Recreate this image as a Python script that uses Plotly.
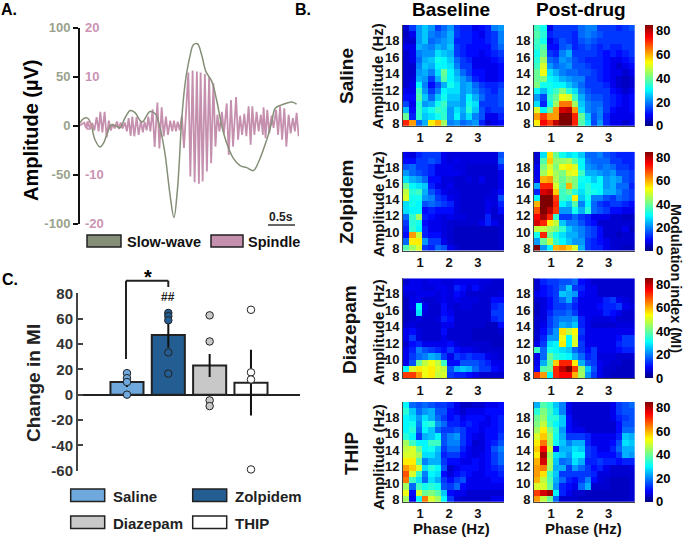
import plotly.graph_objects as go

W, H = 685, 537
FONT = "Liberation Sans"

# ---------- Panel A data ----------
slow_t = [0,.06,.14,.2,.28,.375,.44,.5,.59,.69,.75,.84,.94,1.03,1.16,1.31,1.41,1.5,1.59,1.69,1.76,1.825,1.91,1.97,2.06,2.125,2.2,2.28,2.36,2.47,2.56,2.66,2.75,2.875,3.0,3.125,3.25,3.34,3.5,3.59,3.66,3.78,3.97,4.06]
slow_uv = [2.4,6.8,7.5,2.4,-14.6,-22,-18,-9.5,.7,-1,-2.4,7.5,15.3,13.2,3.4,14.2,11.9,-2.7,-28,-72,-94,-65.7,9,43,70.5,82.4,83.4,72,55,45,26,-1,-18,-33.6,-41,-43,-46,-38,-14.6,2.4,17.6,21,24,21.7]
spindle_t = [.075,.15,.23,.31,.38,.46,.54,.61,.69,.76,.84,.91,.98,1.06,1.14,1.21,1.28,1.36,1.45,1.53,1.61,1.69,1.76,1.83,1.91,2.03,2.11,2.19,2.26,2.34,2.42,2.5,2.575,2.66,2.75,2.83,2.925,3.0,3.08,3.16,3.23,3.31,3.39,3.44,3.51,3.59,3.675,3.75,3.83,3.91,3.99,4.06]
spindle_hi = [.6,.5,.5,1.7,2.8,2.8,1,.3,.8,.6,.6,1.5,1.8,1.7,1,.8,1.8,3.3,4.7,3.7,1.8,1,1,.8,2,10.8,11.2,11,10.8,10.5,10,8.6,2.2,2.8,4.5,5.2,5.8,2,2.4,3.9,3.9,2.8,2.2,3.7,3.2,2,3.2,3.9,3.5,2.2,1.5,2.6]
spindle_lo = [-.5,-.7,-1,-1.2,-1.4,-2.4,-1,-.6,-.7,-.6,-1.2,-2.1,-2.2,-1.9,-1.4,-1,-1.2,-4.4,-4.7,-2.2,-1.9,-1.2,-1.2,-1,-4.6,-10.4,-11.6,-11.9,-11.4,-9.4,-7.7,-4.3,-1.2,-1.6,-6,-4.3,-2.9,-1.9,-2.2,-3.9,-1.9,-1.2,-1.9,-2.6,-1.6,-.5,-1.9,-2.9,-4.3,-1.6,-1.2,-2.2]
slow_ticks = [-100, -50, 0, 50, 100]
spindle_ticks = [-20, -10, 0, 10, 20]

# ---------- Panel C data ----------
drugs = ["Saline", "Zolpidem", "Diazepam", "THIP"]
mi_mean = [10, 47, 23, 9.5]
mi_sem = [4, 10, 9, 26]
mi_points = [[17, 13, 10, 0], [64.5, 62, 58.7, 33.4, 16.6], [62.6, 42, -4.5, -9], [67, 17.6, 12, -59]]
mi_ticks = [-60, -40, -20, 0, 20, 40, 60, 80]
bar_colors = ["#6fa8dc", "#235d91", "#c8c8c8", "#ffffff"]

# ---------- Panel B data: rows run from 8 Hz (first) to 20 Hz (last) ----------
saline_base = [
[72,62,18,24,55,60,45,20,22,18,20,22,12,6,8,10],
[40,12,35,26,28,32,35,22,30,22,28,20,16,8,8,12],
[25,10,35,28,32,36,34,22,28,24,34,26,16,12,14,14],
[15,8,34,22,24,32,36,24,24,22,32,28,14,14,14,16],
[10,10,38,26,18,26,32,26,26,22,30,24,18,14,14,16],
[8,8,36,22,14,20,30,28,28,22,24,20,16,14,12,16],
[6,8,30,20,10,16,24,32,28,22,24,18,14,12,12,14],
[6,7,24,22,14,24,38,30,26,22,18,12,10,8,8,10],
[6,6,22,24,20,28,40,30,24,18,14,10,10,8,8,10],
[6,6,20,26,24,30,30,28,20,14,14,8,8,8,8,10],
[6,8,18,24,26,32,30,26,18,14,12,8,8,8,10,12],
[6,8,20,22,22,28,26,24,14,12,10,10,8,10,12,14],
[8,8,24,22,20,24,22,26,14,12,10,10,10,10,14,18],
[6,6,22,26,18,20,22,24,12,12,12,10,10,12,14,20],
[5,8,22,26,20,18,20,24,14,12,12,10,8,12,14,20],
[6,14,22,26,22,14,18,22,14,12,12,8,10,12,20,22]]
saline_post = [
[55,75,70,80,85,85,72,38,28,15,22,12,8,8,6,8],
[62,70,62,62,85,85,72,40,26,16,20,12,8,8,8,8],
[50,30,40,62,78,80,62,28,20,18,20,14,10,8,8,10],
[28,12,32,45,65,65,45,26,20,18,18,14,12,10,8,10],
[22,15,35,40,52,50,36,24,18,16,16,14,12,10,8,10],
[30,25,32,36,42,34,28,20,16,14,14,14,10,8,6,8],
[42,32,32,30,30,26,22,18,14,14,14,12,8,6,5,6],
[40,42,30,28,24,22,20,20,14,14,12,10,8,6,5,6],
[40,52,28,24,20,18,18,16,16,14,12,10,8,8,6,8],
[36,50,22,18,20,22,16,16,14,12,12,10,8,6,8,10],
[34,45,18,16,22,20,16,14,12,12,12,10,8,8,10,12],
[32,40,14,12,20,24,14,14,14,14,12,10,12,10,12,14],
[35,38,10,10,16,18,12,14,16,14,12,14,12,12,14,14],
[36,32,8,12,16,14,12,16,18,16,14,14,14,14,14,14],
[38,34,12,14,14,14,12,18,20,18,16,14,14,14,14,14],
[36,32,8,14,14,14,14,18,20,20,14,14,14,12,14,16]]
zolpidem_base = [
[38,45,50,14,12,18,16,8,6,5,5,5,5,5,5,6],
[18,55,55,22,14,14,8,6,5,5,5,5,5,5,5,6],
[10,62,48,12,10,10,7,6,5,5,5,5,5,5,5,6],
[12,35,30,12,8,8,7,6,5,5,5,5,5,5,5,6],
[14,34,32,10,8,8,7,6,6,6,6,6,8,12,8,6],
[18,35,45,12,10,8,7,8,7,7,6,6,6,12,6,6],
[28,30,30,10,12,10,10,10,7,6,6,6,6,8,6,10],
[28,32,30,16,18,16,14,12,7,6,6,6,6,8,7,12],
[50,32,32,22,20,14,12,8,7,6,6,6,6,7,7,16],
[48,34,36,24,16,12,8,7,7,6,6,6,6,6,7,10],
[40,30,28,26,12,8,7,8,6,6,6,6,6,6,6,8],
[28,24,22,18,10,10,7,7,6,6,7,6,8,6,6,8],
[22,18,16,14,12,8,8,8,8,7,6,6,6,6,6,8],
[16,18,14,14,12,8,8,8,7,7,6,6,6,6,6,12],
[10,10,14,14,16,14,8,7,8,7,7,7,7,7,7,18],
[8,7,12,14,14,14,8,7,7,7,7,7,7,7,7,16]]
zolpidem_post = [
[85,22,30,60,62,58,50,24,14,12,12,8,6,6,5,5],
[22,40,48,35,30,26,22,22,14,12,10,8,6,6,6,6],
[32,72,40,32,28,24,24,20,16,14,10,6,6,5,6,6],
[48,48,45,42,35,26,22,20,16,14,10,6,6,6,8,5],
[78,72,55,48,26,20,20,16,12,10,6,6,6,6,6,6],
[75,82,72,35,14,14,18,14,12,8,8,8,6,6,5,5],
[68,85,80,70,22,22,32,24,34,18,16,14,10,10,8,8],
[60,85,85,72,30,26,38,20,30,18,14,12,14,14,12,10],
[30,85,85,70,36,34,55,26,32,20,20,16,14,18,16,14],
[12,78,80,58,36,40,34,28,34,32,30,24,24,20,16,14],
[24,72,72,50,38,60,42,30,34,30,30,22,24,18,18,12],
[8,60,62,46,40,45,42,32,30,26,30,22,24,22,16,14],
[8,45,52,45,42,50,52,36,24,24,22,20,22,16,16,14],
[8,42,50,42,52,55,50,30,22,20,18,20,18,14,14,12],
[6,38,58,44,44,46,38,30,20,18,18,18,14,14,12,12],
[6,28,56,40,32,28,30,26,18,18,20,16,14,12,12,12]]
diazepam_base = [
[70,70,62,52,55,48,50,14,12,12,10,8,6,6,6,6],
[30,50,55,52,55,50,48,16,24,26,24,18,14,14,10,8],
[8,16,40,48,52,48,36,10,10,16,16,16,14,12,8,8],
[8,14,18,20,24,22,14,8,14,12,14,12,12,8,7,6],
[8,12,20,16,14,12,10,14,10,8,8,7,6,6,6,6],
[6,10,12,8,8,8,8,10,7,6,6,6,6,6,5,5],
[8,14,7,6,6,6,8,6,6,6,6,5,5,5,5,5],
[8,10,7,6,6,6,10,6,6,6,6,5,5,5,5,6],
[6,7,6,6,6,6,8,8,6,6,6,6,6,5,5,10],
[5,6,7,6,6,7,12,10,6,6,6,6,6,6,12,14],
[5,6,28,7,6,6,10,8,6,6,6,6,6,6,14,14],
[5,8,30,8,6,6,10,7,6,7,7,6,6,6,12,14],
[5,8,8,6,6,7,8,7,8,7,7,7,6,6,10,10],
[7,7,8,8,8,7,8,7,10,8,6,6,6,6,6,7],
[8,8,8,7,7,8,8,7,12,10,7,10,7,6,6,6],
[6,8,8,7,8,8,7,7,8,8,8,8,7,7,6,6]]
diazepam_post = [
[70,62,30,72,75,75,60,45,22,14,8,6,5,5,5,5],
[10,38,40,72,80,85,70,44,26,16,8,6,6,5,5,5],
[8,24,38,58,72,72,55,24,16,14,8,7,6,6,5,5],
[8,18,40,34,32,30,24,18,12,14,7,7,7,6,6,6],
[36,18,32,30,28,26,18,14,10,14,8,8,8,10,12,12],
[8,14,28,30,55,30,50,14,8,8,8,8,8,12,14,14],
[6,12,22,22,52,30,50,12,8,8,8,8,8,10,14,14],
[6,10,16,22,56,48,54,14,8,8,8,8,8,8,8,8],
[6,8,14,18,24,22,26,12,8,6,6,6,6,7,7,7],
[6,7,14,18,20,20,22,12,8,7,7,7,8,6,6,6],
[5,7,12,16,16,18,14,8,8,8,8,12,10,8,6,6],
[5,7,10,14,14,16,12,8,8,8,10,12,12,14,8,7],
[6,7,10,14,18,24,14,8,8,8,8,12,14,8,7,6],
[8,10,12,14,26,24,22,10,8,8,6,6,6,6,6,6],
[6,10,12,14,18,26,14,12,8,8,6,6,6,6,6,6],
[6,12,14,14,16,16,18,10,8,6,6,6,6,6,6,6]]
thip_base = [
[45,8,30,65,50,45,30,14,7,6,6,6,6,6,8,8],
[52,10,50,40,42,38,26,10,8,8,6,6,6,6,6,6],
[45,18,36,32,34,32,16,14,18,10,8,8,8,8,8,8],
[65,36,28,18,28,24,14,10,14,16,8,8,8,8,10,10],
[68,50,35,20,30,28,10,7,10,12,10,8,8,10,10,12],
[62,58,50,28,34,30,16,6,8,10,10,10,8,10,12,14],
[55,55,38,20,24,24,14,10,10,8,8,10,8,10,14,18],
[50,50,45,28,28,24,12,14,14,10,8,7,8,10,14,18],
[48,50,40,30,32,26,14,18,18,12,8,7,7,10,16,20],
[45,36,30,30,36,36,16,20,20,14,10,6,7,10,12,16],
[34,30,14,24,26,30,16,20,22,14,10,8,7,10,10,14],
[30,34,18,30,26,18,14,14,16,14,10,10,8,10,10,12],
[30,32,20,32,34,22,18,12,12,10,12,10,8,8,10,12],
[30,28,22,28,24,18,14,10,12,8,10,10,10,8,10,12],
[34,26,18,22,24,16,16,10,8,6,8,8,8,10,10,10],
[30,18,16,18,16,14,14,12,8,5,5,6,6,8,8,10]]
thip_post = [
[62,48,40,18,6,6,6,5,5,5,5,5,5,5,5,6],
[70,78,82,30,12,8,6,6,5,5,5,5,5,5,5,6],
[50,50,40,22,12,10,8,18,24,6,6,6,5,5,5,6],
[60,48,38,24,18,12,10,14,20,10,7,6,5,5,5,6],
[62,56,36,26,14,14,14,14,14,12,7,7,6,6,6,6],
[62,65,45,24,24,14,22,18,14,10,12,8,6,6,6,7],
[60,78,46,26,18,20,28,24,12,12,14,12,12,10,12,12],
[55,82,44,28,26,22,30,30,14,12,10,10,10,14,24,22],
[58,75,50,10,24,24,28,26,14,12,8,8,12,18,24,24],
[55,65,46,32,26,20,24,24,12,8,8,8,10,16,28,26],
[50,58,46,32,24,14,14,14,12,8,8,8,8,12,26,24],
[45,55,42,34,22,10,8,8,6,6,6,6,6,10,18,18],
[42,48,36,30,26,10,7,6,6,6,6,6,6,10,16,16],
[40,44,34,34,26,10,6,6,6,6,6,6,8,12,14,16],
[34,42,36,28,20,8,6,6,6,6,6,6,8,14,16,16],
[24,38,34,26,20,8,6,6,6,6,6,6,8,14,16,18]]
panel_rows = [("Saline", saline_base, saline_post), ("Zolpidem", zolpidem_base, zolpidem_post),
              ("Diazepam", diazepam_base, diazepam_post), ("THIP", thip_base, thip_post)]

JET = [[0, "#00007f"], [.11, "#0000ff"], [.36, "#00ffff"], [.63, "#ffff00"], [.88, "#ff0000"], [1, "#7f0000"]]
GREEN, PINK = "#858f78", "#c58fae"
GREEN_T, PINK_T = "#9aa28c", "#cb93b4"

def hd(a, b): return [a / W, b / W]
def vd(top, bot): return [1 - bot / H, 1 - top / H]
def px(x): return x / W
def py(y): return 1 - y / H

fig = go.Figure()
layout = dict(
    width=W, height=H, margin=dict(l=0, r=0, t=0, b=0, autoexpand=False), paper_bgcolor="white", plot_bgcolor="white",
    showlegend=False, font=dict(family=FONT, size=13, color="black"),
)
annots, shapes = [], []

def text(s, x, y, size, color="black", angle=0, xanchor="center", weight=700):
    annots.append(dict(text=s, x=px(x), y=py(y), xref="paper", yref="paper", showarrow=False, textangle=angle,
                       xanchor=xanchor, yanchor="middle", font=dict(family=FONT, size=size, color=color, weight=weight)))

def box(x0, y0, x1, y1, fill, lw=1.5, col="#222222"):
    shapes.append(dict(type="rect", xref="paper", yref="paper", x0=px(x0), x1=px(x1), y0=py(y0), y1=py(y1),
                       fillcolor=fill, line=dict(color=col, width=lw)))

def seg(x0, y0, x1, y1, col="#222222", lw=2):
    shapes.append(dict(type="line", xref="paper", yref="paper", x0=px(x0), x1=px(x1), y0=py(y0), y1=py(y1),
                       line=dict(color=col, width=lw)))

# ---------- Panel A ----------
sp_x, sp_y = [0], [0]
half_cycle = 0.038
for t, hi, lo in zip(spindle_t, spindle_hi, spindle_lo):
    sp_x += [t, t + half_cycle]
    sp_y += [hi, lo]
fig.add_trace(go.Scatter(x=sp_x, y=sp_y, mode="lines", line=dict(color=PINK, width=1.8), xaxis="x", yaxis="y"))
fig.add_trace(go.Scatter(x=slow_t, y=slow_uv, mode="lines", line=dict(color=GREEN, width=1.5, shape="spline"), xaxis="x", yaxis="y2"))
layout["xaxis"] = dict(domain=hd(79, 299), range=[-0.02, 4.105], visible=False, anchor="y")
layout["yaxis"] = dict(domain=vd(27.5, 223.5), range=[-20, 20], side="right", anchor="free", position=px(79),
                       tickvals=spindle_ticks, ticktext=[str(v) for v in spindle_ticks], ticklabelstandoff=5,
                       showgrid=False, zeroline=False, showline=False, ticks="",
                       tickfont=dict(family=FONT, size=13, color=PINK_T, weight=700))
layout["yaxis2"] = dict(domain=vd(27.5, 223.5), range=[-100, 100], overlaying="y", side="left", anchor="free", position=px(79),
                        tickvals=slow_ticks, ticktext=[str(v) for v in slow_ticks],
                        showgrid=False, zeroline=False, showline=True, linecolor="#111", linewidth=2,
                        ticks="outside", ticklen=5, tickcolor="#111", tickwidth=1.5,
                        tickfont=dict(family=FONT, size=13, color=GREEN_T, weight=700))
text("Amplitude (µV)", 31, 130, 20, angle=-90)
text("A.", 9, 9, 16)
text("B.", 303, 9, 16)
text("C.", 10, 279, 16)
seg(268, 225, 295, 225, "#333333", 1.5)
text("0.5s", 281, 217, 12, "#222222")
box(87, 235, 121, 247, GREEN)
text("Slow-wave", 125, 241.5, 14.5, "#111", xanchor="left")
box(211, 235, 243, 247, PINK)
text("Spindle", 246, 241.5, 14.5, "#111", xanchor="left")

# ---------- Panel C ----------
idx = list(range(len(drugs)))
fig.add_trace(go.Bar(x=idx, y=mi_mean, marker=dict(color=bar_colors, line=dict(color="#222", width=2)), width=0.8,
                     error_y=dict(type="data", array=mi_sem, thickness=2, width=0, color="#111"), xaxis="x2", yaxis="y3"))
for i, vals in enumerate(mi_points):
    fig.add_trace(go.Scatter(x=[i] * len(vals), y=vals, mode="markers", xaxis="x2", yaxis="y3", cliponaxis=False,
                             marker=dict(size=7.5, color=bar_colors[i], line=dict(color="#222", width=1))))
layout["xaxis2"] = dict(domain=hd(78, 300), range=[-1.185, 4.186], visible=False, anchor="y3")
layout["yaxis3"] = dict(domain=vd(293.3, 470.7), range=[-60, 80], anchor="x2", tickvals=mi_ticks, ticktext=[str(v) for v in mi_ticks],
                        showgrid=False, zeroline=True, zerolinecolor="#222", zerolinewidth=2, showline=True, linecolor="#444", linewidth=2,
                        ticks="inside", ticklen=5, tickcolor="#444", tickwidth=2,
                        tickfont=dict(family=FONT, size=15, color="#333", weight=700))
text("Change in MI", 33, 383, 19, "#222", angle=-90)
seg(126, 359, 126, 280.7)
seg(126, 280.7, 168.3, 280.7)
seg(168.3, 280.7, 168.3, 287)
text("*", 148, 277, 20)
text("##", 168, 297, 12, "#222")
leg = [(70.7, 489, 0), (192.7, 489, 1), (70.7, 516, 2), (192.7, 516, 3)]
for (x, y, i) in leg:
    box(x, y, x + 34, y + 12.5, bar_colors[i])
    text(drugs[i], x + 40, y + 7, 15, "#222", xanchor="left")

# ---------- Panel B ----------
n_x, n_y = 16, 16
x_lo, x_hi, y_lo, y_hi = 0.41, 3.9, 7.72, 19.9
dx, dy = (x_hi - x_lo) / n_x, (y_hi - y_lo) / n_y
tops = [25, 151.7, 278.3, 402]
bots = [125.7, 250.7, 378.3, 501.7]
cols = [(403, 504), (534, 634.7)]
amp_label_y = [76, 204, 332, 457]
name_label = [(347, 76), (347, 202), (349, 330), (351, 453)]
ax = 3
for r, (name, base, post) in enumerate(panel_rows):
    for c, z in enumerate((base, post)):
        xn, yn = f"x{ax}", f"y{ax + 1}"
        cb = None
        if c == 1:
            cb = dict(x=644.7 / W, xanchor="left", y=py(bots[r]), yanchor="bottom", len=bots[r] - tops[r], lenmode="pixels",
                      thickness=7.5, thicknessmode="pixels", outlinewidth=0, tickvals=[0, 20, 40, 60, 80], ticks="", xpad=0, ypad=0,
                      tickfont=dict(family=FONT, size=13, color="black", weight=700))
        fig.add_trace(go.Heatmap(z=z, x0=x_lo + dx / 2, dx=dx, y0=y_lo + dy / 2, dy=dy, colorscale=JET, zmin=0, zmax=85,
                                 showscale=c == 1, colorbar=cb, xaxis=xn, yaxis=yn))
        layout[f"xaxis{ax}"] = dict(domain=hd(*cols[c]), range=[x_lo, x_hi], anchor=yn, tickvals=[1, 2, 3], ticks="",
                                    showgrid=False, zeroline=False, showline=True, linecolor="#444", linewidth=1,
                                    tickfont=dict(family=FONT, size=13, color="#111", weight=700))
        layout[f"yaxis{ax + 1}"] = dict(domain=vd(tops[r], bots[r]), range=[y_lo, y_hi], anchor=xn, tickvals=[8, 10, 12, 14, 16, 18], ticks="",
                                        showgrid=False, zeroline=False, showline=True, linecolor="#444", linewidth=1,
                                        tickfont=dict(family=FONT, size=13, color="#111", weight=700))
        ax += 1
    text("Amplitude (Hz)", 378, amp_label_y[r], 15, "#111", angle=-90)
    text(name, name_label[r][0], name_label[r][1], 19, "#111", angle=-90)
text("Baseline", 451, 9, 19)
text("Post-drug", 581, 9, 19)
text("Phase (Hz)", 452, 528, 15, "#111")
text("Phase (Hz)", 583, 528, 15, "#111")
text("Modulation index (MI)", 676, 278, 14.5, "#111", angle=90)

layout["annotations"] = annots
layout["shapes"] = shapes
fig.update_layout(**layout)
fig.write_html("out.html", config={"displayModeBar": False},
               post_script="document.body.style.margin='0';document.body.style.overflow='hidden';")
